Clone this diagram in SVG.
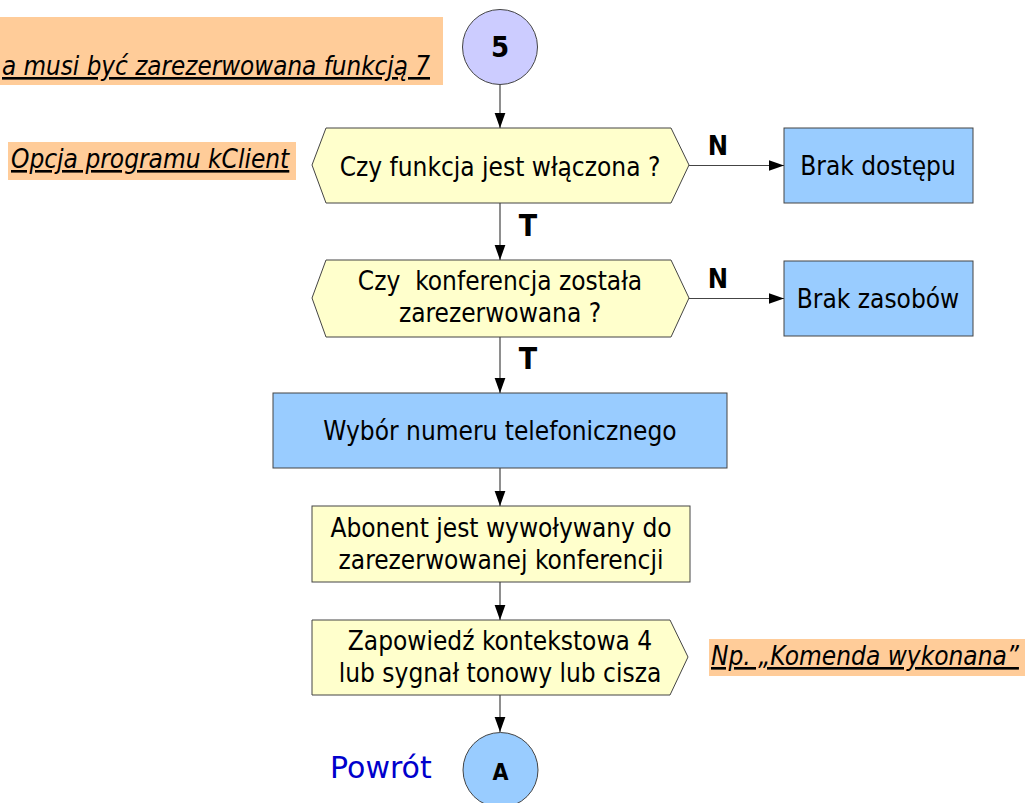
<svg xmlns="http://www.w3.org/2000/svg" width="1025" height="803" viewBox="0 0 1025 803">
<defs>
<marker id="ah" markerWidth="15" markerHeight="21" refX="21" refY="7.5" viewBox="0 0 21 15" markerUnits="userSpaceOnUse" orient="auto">
<path d="M0,0 L21,7.5 L0,15 Z" fill="#000"/>
</marker>
</defs>
<style>
.t{font-family:"DejaVu Sans Condensed","DejaVu Sans",sans-serif;font-stretch:condensed;font-size:26px;fill:#000;text-anchor:middle}
.b{font-family:"DejaVu Sans Condensed","DejaVu Sans",sans-serif;font-stretch:condensed;font-weight:bold;fill:#000;text-anchor:middle}
.note{font-family:"DejaVu Sans Condensed","DejaVu Sans",sans-serif;font-stretch:condensed;font-style:italic;font-size:26px;fill:#000;text-decoration:underline}
.y{fill:#ffffcc;stroke:#444;stroke-width:1}
.bl{fill:#99ccff;stroke:#444;stroke-width:1}
.o{fill:#ffcc99;stroke:none}
.c{stroke:#444;stroke-width:1.2;fill:none;marker-end:url(#ah)}
</style>
<rect width="1025" height="803" fill="#fff"/>
<g id="note1"><rect class="o" x="0" y="17" width="443" height="68"/><text class="note" x="2" y="75" textLength="428" lengthAdjust="spacingAndGlyphs">a musi być zarezerwowana funkcją 7</text></g>
<g id="note2"><rect class="o" x="8" y="142" width="288" height="38"/><text class="note" x="11" y="168">Opcja programu kClient</text></g>
<g id="note3"><rect class="o" x="709" y="639" width="316" height="37"/><text class="note" x="711" y="665">Np. „Komenda wykonana”</text></g>
<g id="start"><circle cx="500" cy="47" r="37.5" fill="#ccccff" stroke="#444"/><text class="b" x="500" y="57" font-size="29">5</text></g>
<g id="d1"><polygon class="y" points="312,165 326,128 671,128 689,165 671,203 326,203"/><text class="t" x="500" y="176">Czy funkcja jest włączona ?</text></g>
<g id="d2"><polygon class="y" points="312,298 326,260 671,260 689,298 671,337 326,337"/><text class="t" x="500" y="290" xml:space="preserve">Czy  konferencja została</text><text class="t" x="500" y="322">zarezerwowana ?</text></g>
<g id="r1"><rect class="bl" x="784" y="128" width="189" height="75"/><text class="t" x="878" y="175">Brak dostępu</text></g>
<g id="r2"><rect class="bl" x="784" y="261" width="189" height="75"/><text class="t" x="878" y="308">Brak zasobów</text></g>
<g id="p1"><rect class="bl" x="273" y="393" width="454" height="75"/><text class="t" x="500" y="440">Wybór numeru telefonicznego</text></g>
<g id="p2"><rect class="y" x="312" y="506" width="378" height="76"/><text class="t" x="501" y="537">Abonent jest wywoływany do</text><text class="t" x="501" y="569">zarezerwowanej konferencji</text></g>
<g id="p3"><polygon class="y" points="312,620 670,620 688,657 670,695 312,695"/><text class="t" x="500" y="650">Zapowiedź kontekstowa 4</text><text class="t" x="500" y="682">lub sygnał tonowy lub cisza</text></g>
<g id="end"><circle cx="500.5" cy="770" r="37.5" fill="#99ccff" stroke="#444"/><text class="b" x="500.5" y="780" font-size="23">A</text><text x="330" y="778" font-family="DejaVu Sans,sans-serif" font-size="30" fill="#0000cc">Powrót</text></g>
<g id="connectors">
<line class="c" x1="500" y1="85" x2="500" y2="128"/>
<line class="c" x1="500" y1="203" x2="500" y2="260"/>
<line class="c" x1="500" y1="337" x2="500" y2="393"/>
<line class="c" x1="500" y1="468" x2="500" y2="506"/>
<line class="c" x1="500" y1="582" x2="500" y2="620"/>
<line class="c" x1="500" y1="695" x2="500" y2="732"/>
<line class="c" x1="689" y1="165.5" x2="784" y2="165.5"/>
<line class="c" x1="689" y1="298.5" x2="784" y2="298.5"/>
<text class="b" x="718" y="155" font-size="27">N</text>
<text class="b" x="718" y="288" font-size="27">N</text>
<text class="b" x="528" y="236" font-size="30">T</text>
<text class="b" x="528" y="369" font-size="30">T</text>
</g>
</svg>
